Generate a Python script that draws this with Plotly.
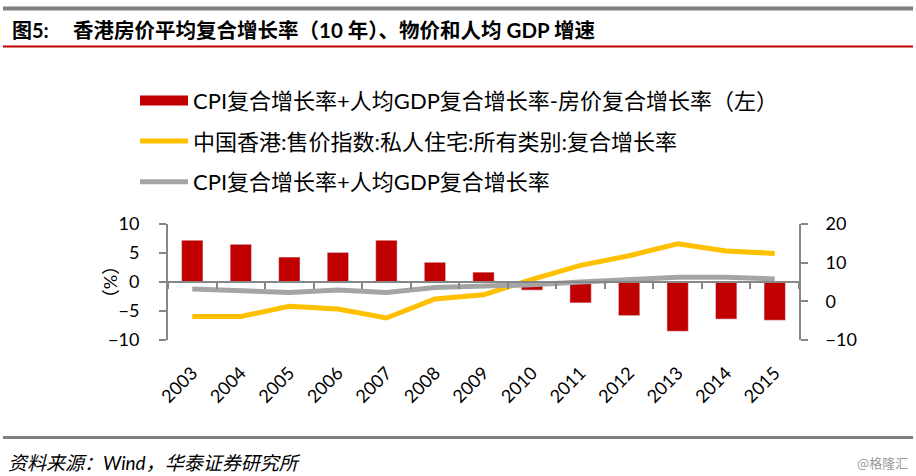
import plotly.graph_objects as go

# ---------------- data ----------------
years = ["2003", "2004", "2005", "2006", "2007", "2008", "2009",
         "2010", "2011", "2012", "2013", "2014", "2015"]
gap_rate = [7.2, 6.5, 4.3, 5.1, 7.2, 3.4, 1.7, -1.4, -3.6, -5.8, -8.5, -6.4, -6.6]
hk_price_rate = [-3.9, -3.9, -1.3, -2.0, -4.3, 0.6, 1.7, 5.7, 9.3, 11.8, 14.9, 13.0, 12.4]
cpi_gdp_rate = [3.2, 2.8, 2.3, 2.9, 2.3, 3.6, 3.8, 4.3, 5.0, 5.7, 6.2, 6.2, 5.8]

name_gap = "CPI复合增长率+人均GDP复合增长率-房价复合增长率（左）"
name_hk = "中国香港:售价指数:私人住宅:所有类别:复合增长率"
name_cpi = "CPI复合增长率+人均GDP复合增长率"
left_ticks = [-10, -5, 0, 5, 10]
right_ticks = [-10, 0, 10, 20]

# ---------------- layout helpers ----------------
W, H = 916, 476
PL, PR, PT, PB = 168, 799, 224, 339.7   # plot area in pixels


def fx(px):
    return (px - PL) / (PR - PL)


def fy(py):
    return (PB - py) / (PB - PT)


FONT = "Lato, 'Noto Sans CJK SC', sans-serif"
CJK = "'Noto Sans CJK SC', sans-serif"
RED, YELLOW, GREY, AXIS = "#C00000", "#FFC000", "#A5A5A5", "#868686"
XRANGE = [-0.5, len(years) - 0.5]

fig = go.Figure()

# bars on x (axis line + boundary ticks at the zero level) / y (left)
fig.add_trace(go.Bar(
    x=years, y=gap_rate, name=name_gap, marker_color=RED,
    width=0.44, showlegend=False, xaxis="x", yaxis="y"))

# lines on x2 (labels at the bottom) / y2 (right)
fig.add_trace(go.Scatter(
    x=years, y=hk_price_rate, name=name_hk, mode="lines",
    line=dict(color=YELLOW, width=5), xaxis="x2", yaxis="y2",
    legendrank=2, legendgroup="b"))

fig.add_trace(go.Scatter(
    x=years, y=cpi_gdp_rate, name=name_cpi, mode="lines",
    line=dict(color=GREY, width=5), xaxis="x2", yaxis="y2",
    legendrank=3, legendgroup="c"))

# legend entry for the bars (wide red swatch)
fig.add_trace(go.Scatter(
    x=[None], y=[None], name=name_gap, mode="lines",
    line=dict(color=RED, width=13), xaxis="x2", yaxis="y2",
    legendrank=1, legendgroup="a"))

fig.update_layout(
    width=W, height=H,
    margin=dict(l=PL, r=W - PR, t=PT, b=H - PB, pad=0),
    paper_bgcolor="white", plot_bgcolor="white",
    font=dict(family=FONT, size=18, color="#000"),
    xaxis=dict(
        type="category", categoryorder="array", categoryarray=years,
        range=XRANGE, anchor="free", position=0.5,
        showticklabels=False, ticks="outside", tickson="boundaries",
        ticklen=6, tickwidth=2, tickcolor=AXIS,
        showline=True, linecolor=AXIS, linewidth=2,
        showgrid=False, zeroline=False,
    ),
    xaxis2=dict(
        type="category", categoryorder="array", categoryarray=years,
        range=XRANGE, overlaying="x", anchor="y", side="bottom",
        showline=False, ticks="", showgrid=False, zeroline=False,
        tickangle=-45, tickfont=dict(size=18, family=FONT),
        ticklabelstandoff=18,
    ),
    yaxis=dict(
        range=[-10, 10], tickmode="array", tickvals=left_ticks,
        ticks="outside", ticklen=7, tickwidth=2, tickcolor=AXIS,
        showline=True, linecolor=AXIS, linewidth=2,
        showgrid=False, zeroline=False, ticklabelstandoff=16,
    ),
    yaxis2=dict(
        overlaying="y", side="right", anchor="x",
        range=[-10, 20], tickmode="array", tickvals=right_ticks,
        ticks="outside", ticklen=7, tickwidth=2, tickcolor=AXIS,
        showline=True, linecolor=AXIS, linewidth=2,
        showgrid=False, zeroline=False, ticklabelstandoff=14,
    ),
    legend=dict(
        x=fx(135), y=fy(80), xanchor="left", yanchor="top",
        font=dict(size=22, family=FONT, color="#000"),
        traceorder="grouped", tracegroupgap=9, itemwidth=48,
        bgcolor="rgba(0,0,0,0)",
    ),
    showlegend=True,
)

# decorative rules (header / footer)
rules = [
    (9, "#7F7F7F", 4),
    (47, RED, 2),
    (437, "#7F7F7F", 3),
]
for py, col, lw in rules:
    fig.add_shape(type="line", xref="paper", yref="paper",
                  x0=fx(3), x1=fx(913), y0=fy(py), y1=fy(py),
                  line=dict(color=col, width=lw))

annots = [
    dict(text="<b>图5:</b>", x=fx(10), y=fy(31), xanchor="left",
         font=dict(size=20, family=FONT)),
    dict(text="<b>香港房价平均复合增长率（10 年）、物价和人均 GDP 增速</b>",
         x=fx(71), y=fy(31), xanchor="left", font=dict(size=20.5, family=FONT)),
    dict(text="<i>资料来源：Wind，华泰证券研究所</i>", x=fx(6), y=fy(462),
         xanchor="left", font=dict(size=19, family=FONT)),
    dict(text="@格隆汇", x=fx(910), y=fy(462), xanchor="right",
         font=dict(size=13, family=CJK, color="#9A9A9A")),
    dict(text="（%）", x=fx(110), y=fy(282), textangle=-90, xanchor="center",
         font=dict(size=18, family=FONT)),
]
for a in annots:
    fig.add_annotation(xref="paper", yref="paper", showarrow=False,
                       yanchor="middle", **a)

fig.write_html("out.html")
